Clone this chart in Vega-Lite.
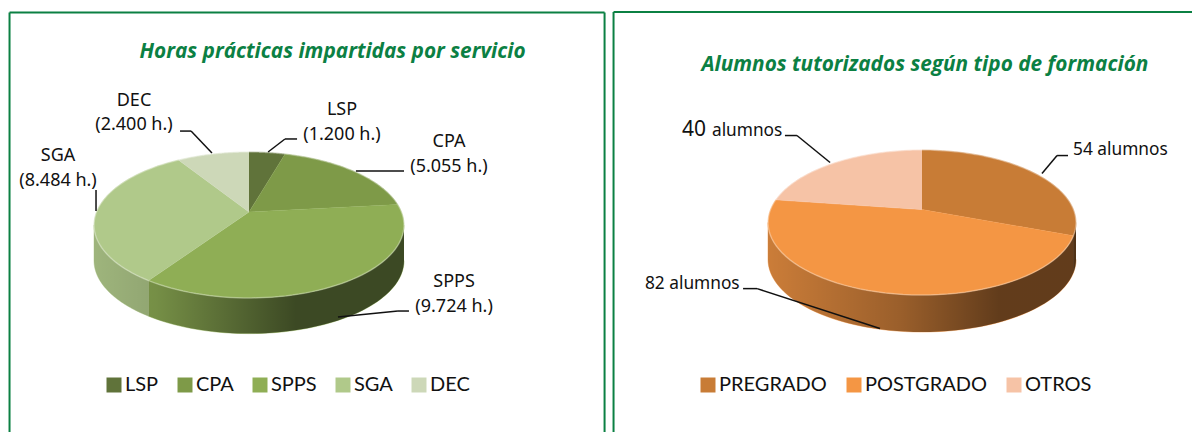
{
"$schema":"https://vega.github.io/schema/vega-lite/v6.json",
"padding":0,"spacing":0,"bounds":"flush","background":"white",
"resolve":{"scale":{"fill":"independent","stroke":"independent"},"legend":{"fill":"independent","stroke":"independent"}},
"config":{"view":{"stroke":null},"axis":{"disable":true},"legend":{"labelFont":"Lato","labelFontSize":20,"labelColor":"#111","symbolType":"square","symbolSize":225,"symbolStrokeWidth":0,"title":null,"labelOffset":1},"text":{"font":"Noto Sans","fontSize":18,"color":"#111"}},
"datasets":{
"left":[{"name":"LSP","value":1200,"ord":1,"label":["LSP","(1.200 h.)"]},{"name":"CPA","value":5055,"ord":2,"label":["CPA","(5.055 h.)"]},{"name":"SPPS","value":9724,"ord":3,"label":["SPPS","(9.724 h.)"]},{"name":"SGA","value":8484,"ord":4,"label":["SGA","(8.484 h.)"]},{"name":"DEC","value":2400,"ord":5,"label":["DEC","(2.400 h.)"]}],
"right":[{"name":"PREGRADO","value":54,"ord":1,"label":"54 alumnos"},{"name":"POSTGRADO","value":82,"ord":2,"label":"82 alumnos"},{"name":"OTROS","value":40,"ord":3,"label":"alumnos"}]
},
"hconcat":[
{"width":609,"height":432,"layer":[
{"data":{"name":"left"},"transform":[
{"joinaggregate":[{"op":"sum","field":"value","as":"total"}]},
{"window":[{"op":"sum","field":"value","as":"cum"}],"sort":[{"field":"ord"}]},
{"calculate":"(datum.cum-datum.value)/datum.total*2*PI","as":"a0"},
{"calculate":"datum.cum/datum.total*2*PI","as":"a1"}],
"layer":[
{"transform":[{"calculate":"max(datum.a0,1.749)","as":"b0"},{"calculate":"min(datum.a1,4.534)","as":"b1"},{"filter":"datum.b1>datum.b0"},{"calculate":"sequence(0,122)","as":"t"},{"flatten":["t"]},
{"calculate":"datum.t<=60?datum.b0+(datum.b1-datum.b0)*datum.t/60:datum.b1-(datum.b1-datum.b0)*(datum.t-61)/60","as":"a"},
{"calculate":"0.984*sin(datum.a)/(1+0.178*cos(datum.a))","as":"x"},
{"calculate":"0.084+0.456*cos(datum.a)/(1+0.178*cos(datum.a))-(datum.t<=60?0.23:0)","as":"y"}],
"mark":{"type":"line","strokeWidth":0.5,"interpolate":"linear"},
"encoding":{"x":{"field":"x","type":"quantitative","scale":{"domain":[-1.6065,2.3226],"nice":false,"zero":false}},"y":{"field":"y","type":"quantitative","scale":{"domain":[-1.3355,1.4516],"nice":false,"zero":false}},"order":{"field":"t"},
"fill":{"field":"name","type":"nominal","scale":{"domain":["LSP","CPA","SPPS","SGA","DEC"],"range":["#60733a","#7e9a48","#8fae55","#b0c98a","#cdd8b8"]},"legend":{"orient":"none","legendX":104,"legendY":375,"direction":"horizontal","columns":5,"columnPadding":16}},
"stroke":{"field":"name","type":"nominal","scale":{"domain":["LSP","CPA","SPPS","SGA","DEC"],"range":["#60733a","#7e9a48","#8fae55","#b0c98a","#cdd8b8"]},"legend":null}}},
{"transform":[{"aggregate":[{"op":"sum","field":"value","as":"total"}]},{"calculate":"sequence(0,122)","as":"t"},{"flatten":["t"]},
{"calculate":"datum.t<=60?1.749+2.785*datum.t/60:4.534-2.785*(datum.t-61)/60","as":"a"},
{"calculate":"0.984*sin(datum.a)/(1+0.178*cos(datum.a))","as":"x"},
{"calculate":"0.084+0.456*cos(datum.a)/(1+0.178*cos(datum.a))-(datum.t<=60?0.23:0)","as":"y"}],
"mark":{"type":"line","strokeWidth":0,"fill":{"gradient":"linear","x1":0,"y1":0,"x2":1,"y2":0,"stops":[{"offset":0,"color":"rgba(0,0,0,0.1)"},{"offset":0.2,"color":"rgba(0,0,0,0.18)"},{"offset":0.65,"color":"rgba(0,0,0,0.58)"},{"offset":1,"color":"rgba(0,0,0,0.58)"}]}},
"encoding":{"x":{"field":"x","type":"quantitative"},"y":{"field":"y","type":"quantitative"},"order":{"field":"t"}}},
{"transform":[{"calculate":"sequence(0,62)","as":"t"},{"flatten":["t"]},
{"calculate":"datum.a0+(datum.a1-datum.a0)*(datum.t-1)/60","as":"a"},
{"calculate":"datum.t==0?0:0.984*sin(datum.a)/(1+0.178*cos(datum.a))","as":"x"},
{"calculate":"0.084+(datum.t==0?0:0.456*cos(datum.a)/(1+0.178*cos(datum.a)))","as":"y"}],
"layer":[
{"mark":{"type":"line","strokeWidth":0.5},"encoding":{"x":{"field":"x","type":"quantitative"},"y":{"field":"y","type":"quantitative"},"order":{"field":"t"},"fill":{"field":"name","type":"nominal"},"stroke":{"field":"name","type":"nominal"}}},
{"transform":[{"filter":"datum.t>0"}],"mark":{"type":"line","strokeWidth":1.5,"stroke":"white","opacity":0.3},"encoding":{"x":{"field":"x","type":"quantitative"},"y":{"field":"y","type":"quantitative"},"order":{"field":"t"},"detail":{"field":"name"}}}
]}
]},
{"data":{"name":"left"},"transform":[{"filter":"datum.name=='LSP'"}],"mark":{"type":"text","align":"center","baseline":"middle","lineHeight":24.5},"encoding":{"x":{"datum":0.6},"y":{"datum":0.741},"text":{"field":"label"}}},
{"data":{"name":"left"},"transform":[{"filter":"datum.name=='CPA'"}],"mark":{"type":"text","align":"center","baseline":"middle","lineHeight":24.5},"encoding":{"x":{"datum":1.29},"y":{"datum":0.535},"text":{"field":"label"}}},
{"data":{"name":"left"},"transform":[{"filter":"datum.name=='SPPS'"}],"mark":{"type":"text","align":"center","baseline":"middle","lineHeight":24.5},"encoding":{"x":{"datum":1.323},"y":{"datum":-0.368},"text":{"field":"label"}}},
{"data":{"name":"left"},"transform":[{"filter":"datum.name=='SGA'"}],"mark":{"type":"text","align":"center","baseline":"middle","lineHeight":24.5},"encoding":{"x":{"datum":-1.232},"y":{"datum":0.445},"text":{"field":"label"}}},
{"data":{"name":"left"},"transform":[{"filter":"datum.name=='DEC'"}],"mark":{"type":"text","align":"center","baseline":"middle","lineHeight":24.5},"encoding":{"x":{"datum":-0.742},"y":{"datum":0.8},"text":{"field":"label"}}},
{"data":{"values":[{}]},"mark":{"type":"text","font":"Open Sans","fontSize":20.8,"fontWeight":"bold","fontStyle":"italic","color":"#0b8043","align":"center","baseline":"middle"},"encoding":{"x":{"datum":0.539},"y":{"datum":1.116},"text":{"value":"Horas prácticas impartidas por servicio"}}},
{"data":{"values":[{}]},"layer":[
{"mark":{"type":"rule","color":"#111","strokeWidth":1.5},"encoding":{"x":{"datum":-0.445},"y":{"datum":0.606},"x2":{"datum":-0.374},"y2":{"datum":0.606}}},
{"mark":{"type":"rule","color":"#111","strokeWidth":1.5},"encoding":{"x":{"datum":-0.374},"y":{"datum":0.606},"x2":{"datum":-0.239},"y2":{"datum":0.465}}},
{"mark":{"type":"rule","color":"#111","strokeWidth":1.5},"encoding":{"x":{"datum":0.123},"y":{"datum":0.471},"x2":{"datum":0.232},"y2":{"datum":0.555}}},
{"mark":{"type":"rule","color":"#111","strokeWidth":1.5},"encoding":{"x":{"datum":0.232},"y":{"datum":0.555},"x2":{"datum":0.31},"y2":{"datum":0.555}}},
{"mark":{"type":"rule","color":"#111","strokeWidth":1.5},"encoding":{"x":{"datum":0.69},"y":{"datum":0.348},"x2":{"datum":1.0},"y2":{"datum":0.348}}},
{"mark":{"type":"rule","color":"#111","strokeWidth":1.5},"encoding":{"x":{"datum":0.574},"y":{"datum":-0.594},"x2":{"datum":0.961},"y2":{"datum":-0.555}}},
{"mark":{"type":"rule","color":"#111","strokeWidth":1.5},"encoding":{"x":{"datum":0.961},"y":{"datum":-0.555},"x2":{"datum":1.032},"y2":{"datum":-0.555}}},
{"mark":{"type":"rule","color":"#111","strokeWidth":1.5},"encoding":{"x":{"datum":-0.987},"y":{"datum":0.226},"x2":{"datum":-0.987},"y2":{"datum":0.09}}},
{"mark":{"type":"rule","color":"#0b8043","strokeWidth":2},"encoding":{"x":{"datum":-1.545},"y":{"datum":1.371},"x2":{"datum":2.294},"y2":{"datum":1.371}}},
{"mark":{"type":"rule","color":"#0b8043","strokeWidth":2},"encoding":{"x":{"datum":-1.545},"y":{"datum":1.371},"x2":{"datum":-1.545},"y2":{"datum":-1.3355}}},
{"mark":{"type":"rule","color":"#0b8043","strokeWidth":2},"encoding":{"x":{"datum":2.294},"y":{"datum":1.371},"x2":{"datum":2.294},"y2":{"datum":-1.3355}}}
]}
]},
{"width":583,"height":432,"layer":[
{"data":{"name":"right"},"transform":[
{"joinaggregate":[{"op":"sum","field":"value","as":"total"}]},
{"window":[{"op":"sum","field":"value","as":"cum"}],"sort":[{"field":"ord"}]},
{"calculate":"(datum.cum-datum.value)/datum.total*2*PI","as":"a0"},
{"calculate":"datum.cum/datum.total*2*PI","as":"a1"}],
"layer":[
{"transform":[{"calculate":"max(datum.a0,1.749)","as":"b0"},{"calculate":"min(datum.a1,4.534)","as":"b1"},{"filter":"datum.b1>datum.b0"},{"calculate":"sequence(0,122)","as":"t"},{"flatten":["t"]},
{"calculate":"datum.t<=60?datum.b0+(datum.b1-datum.b0)*datum.t/60:datum.b1-(datum.b1-datum.b0)*(datum.t-61)/60","as":"a"},
{"calculate":"0.984*sin(datum.a)/(1+0.178*cos(datum.a))","as":"x"},
{"calculate":"0.084+0.456*cos(datum.a)/(1+0.178*cos(datum.a))-(datum.t<=60?0.24:0)","as":"y"}],
"mark":{"type":"line","strokeWidth":0.5,"interpolate":"linear"},
"encoding":{"x":{"field":"x","type":"quantitative","scale":{"domain":[-2.0325,1.7532],"nice":false,"zero":false}},"y":{"field":"y","type":"quantitative","scale":{"domain":[-1.36,1.445],"nice":false,"zero":false}},"order":{"field":"t"},
"fill":{"field":"name","type":"nominal","scale":{"domain":["PREGRADO","POSTGRADO","OTROS"],"range":["#c87c36","#f49644","#f6c3a6"]},"legend":{"orient":"none","legendX":89,"legendY":375,"direction":"horizontal","columns":3,"columnPadding":17}},
"stroke":{"field":"name","type":"nominal","scale":{"domain":["PREGRADO","POSTGRADO","OTROS"],"range":["#c87c36","#f49644","#f6c3a6"]},"legend":null}}},
{"transform":[{"aggregate":[{"op":"sum","field":"value","as":"total"}]},{"calculate":"sequence(0,122)","as":"t"},{"flatten":["t"]},
{"calculate":"datum.t<=60?1.749+2.785*datum.t/60:4.534-2.785*(datum.t-61)/60","as":"a"},
{"calculate":"0.984*sin(datum.a)/(1+0.178*cos(datum.a))","as":"x"},
{"calculate":"0.084+0.456*cos(datum.a)/(1+0.178*cos(datum.a))-(datum.t<=60?0.24:0)","as":"y"}],
"mark":{"type":"line","strokeWidth":0,"fill":{"gradient":"linear","x1":0,"y1":0,"x2":1,"y2":0,"stops":[{"offset":0,"color":"rgba(0,0,0,0.17)"},{"offset":0.43,"color":"rgba(0,0,0,0.37)"},{"offset":0.75,"color":"rgba(0,0,0,0.6)"},{"offset":1,"color":"rgba(0,0,0,0.6)"}]}},
"encoding":{"x":{"field":"x","type":"quantitative"},"y":{"field":"y","type":"quantitative"},"order":{"field":"t"}}},
{"transform":[{"calculate":"sequence(0,62)","as":"t"},{"flatten":["t"]},
{"calculate":"datum.a0+(datum.a1-datum.a0)*(datum.t-1)/60","as":"a"},
{"calculate":"datum.t==0?0:0.984*sin(datum.a)/(1+0.178*cos(datum.a))","as":"x"},
{"calculate":"0.084+(datum.t==0?0:0.456*cos(datum.a)/(1+0.178*cos(datum.a)))","as":"y"}],
"layer":[
{"mark":{"type":"line","strokeWidth":0.5},"encoding":{"x":{"field":"x","type":"quantitative"},"y":{"field":"y","type":"quantitative"},"order":{"field":"t"},"fill":{"field":"name","type":"nominal"},"stroke":{"field":"name","type":"nominal"}}},
{"transform":[{"filter":"datum.t>0"}],"mark":{"type":"line","strokeWidth":1.5,"stroke":"white","opacity":0.3},"encoding":{"x":{"field":"x","type":"quantitative"},"y":{"field":"y","type":"quantitative"},"order":{"field":"t"},"detail":{"field":"name"}}}
]}
]},
{"data":{"name":"right"},"transform":[{"filter":"datum.name=='PREGRADO'"}],"mark":{"type":"text","align":"left","baseline":"middle","fontSize":17.3},"encoding":{"x":{"datum":0.981},"y":{"datum":0.474},"text":{"field":"label"}}},
{"data":{"name":"right"},"transform":[{"filter":"datum.name=='POSTGRADO'"}],"mark":{"type":"text","align":"left","baseline":"middle","fontSize":17.3},"encoding":{"x":{"datum":-1.799},"y":{"datum":-0.396},"text":{"field":"label"}}},
{"data":{"name":"right"},"transform":[{"filter":"datum.name=='OTROS'"}],"mark":{"type":"text","align":"left","baseline":"middle","fontSize":21},"encoding":{"x":{"datum":-1.558},"y":{"datum":0.604},"text":{"field":"value"}}},
{"data":{"name":"right"},"transform":[{"filter":"datum.name=='OTROS'"}],"mark":{"type":"text","align":"left","baseline":"middle","fontSize":17.3},"encoding":{"x":{"datum":-1.364},"y":{"datum":0.597},"text":{"field":"label"}}},
{"data":{"values":[{}]},"mark":{"type":"text","font":"Open Sans","fontSize":20.8,"fontWeight":"bold","fontStyle":"italic","color":"#0b8043","align":"center","baseline":"middle"},"encoding":{"x":{"datum":0.019},"y":{"datum":1.02},"text":{"value":"Alumnos tutorizados según tipo de formación"}}},
{"data":{"values":[{}]},"layer":[
{"mark":{"type":"rule","color":"#111","strokeWidth":1.5},"encoding":{"x":{"datum":-0.89},"y":{"datum":0.565},"x2":{"datum":-0.812},"y2":{"datum":0.565}}},
{"mark":{"type":"rule","color":"#111","strokeWidth":1.5},"encoding":{"x":{"datum":-0.812},"y":{"datum":0.565},"x2":{"datum":-0.597},"y2":{"datum":0.39}}},
{"mark":{"type":"rule","color":"#111","strokeWidth":1.5},"encoding":{"x":{"datum":-1.162},"y":{"datum":-0.429},"x2":{"datum":-1.071},"y2":{"datum":-0.429}}},
{"mark":{"type":"rule","color":"#111","strokeWidth":1.5},"encoding":{"x":{"datum":-1.071},"y":{"datum":-0.429},"x2":{"datum":-0.273},"y2":{"datum":-0.688}}},
{"mark":{"type":"rule","color":"#111","strokeWidth":1.5},"encoding":{"x":{"datum":0.948},"y":{"datum":0.435},"x2":{"datum":0.877},"y2":{"datum":0.435}}},
{"mark":{"type":"rule","color":"#111","strokeWidth":1.5},"encoding":{"x":{"datum":0.877},"y":{"datum":0.435},"x2":{"datum":0.779},"y2":{"datum":0.318}}},
{"mark":{"type":"rule","color":"#0b8043","strokeWidth":2},"encoding":{"x":{"datum":-2.003},"y":{"datum":1.367},"x2":{"datum":1.7532},"y2":{"datum":1.367}}},
{"mark":{"type":"rule","color":"#0b8043","strokeWidth":2},"encoding":{"x":{"datum":-2.003},"y":{"datum":1.367},"x2":{"datum":-2.003},"y2":{"datum":-1.36}}}
]}
]}
]}
